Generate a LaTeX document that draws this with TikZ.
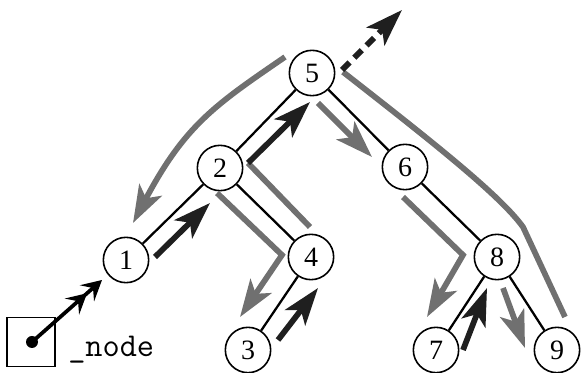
\documentclass[tikz,border=0pt]{standalone}
\usepackage{fontspec}
\setmainfont{Liberation Serif}
\usetikzlibrary{arrows.meta}
\definecolor{WalkGray}{rgb}{0.44, 0.44, 0.44}
\definecolor{WalkBlack}{rgb}{0.12, 0.12, 0.12}

\begin{document}
\begin{tikzpicture}[x=0.75pt,y=0.75pt,yscale=-1,xscale=1,
	treenode/.style={draw, circle, line width=1.2pt, minimum size=34pt, inner sep=0pt, font=\fontsize{21}{21}\selectfont},
	treeedge/.style={line width=1.7pt},
	walkgray/.style={draw=WalkGray, line width=4.3pt, line join=miter, -{Stealth[length=28pt,width=19pt,inset=7pt]}},
	walkline/.style={draw=WalkGray, line width=4.3pt, line join=miter},
	walkblack/.style={draw=WalkBlack, line width=4.3pt, line join=miter, -{Stealth[length=28pt,width=19pt,inset=7pt]}}]
	\useasboundingbox (0,0) rectangle (582,373);

	% Tree nodes
	\node [treenode] (n5) at (312,73) {5};
	\node [treenode] (n2) at (220,168) {2};
	\node [treenode] (n6) at (405,167) {6};
	\node [treenode] (n1) at (126,260) {1};
	\node [treenode] (n4) at (311,257) {4};
	\node [treenode] (n3) at (248,350) {3};
	\node [treenode] (n8) at (497,257) {8};
	\node [treenode] (n7) at (436,350) {7};
	\node [treenode] (n9) at (557,350) {9};

	% Tree edges
	\draw [treeedge] (n5) -- (n2);
	\draw [treeedge] (n5) -- (n6);
	\draw [treeedge] (n2) -- (n1);
	\draw [treeedge] (n2) -- (n4);
	\draw [treeedge] (n4) -- (n3);
	\draw [treeedge] (n6) -- (n8);
	\draw [treeedge] (n8) -- (n7);
	\draw [treeedge] (n8) -- (n9);

	% Pointer box
	\node [draw, line width=0.9pt, minimum width=36pt, minimum height=37pt, inner sep=0pt] (ptr) at (31,342) {};
	\coordinate (ptrdot) at (32,342);
	\coordinate (ptrend) at (102,280);
	\fill (ptrdot) circle (4.5pt);
	\draw [line width=2.8pt, -{Stealth[length=15pt,width=16pt,inset=6pt] Stealth[length=15pt,width=16pt,inset=6pt]}] (ptrdot) -- (ptrend);
	% Text Node
	\node [anchor=base west, inner sep=0pt, font=\ttfamily\fontsize{25}{25}\selectfont] (ptrlabel) at (68,357) {\_node};

	% Walk around the tree
	\draw [walkgray] (285,57) .. controls (215,105) and (185,125) .. (133,223);
	\draw [walkblack] (155,257) -- (210,203);
	\draw [walkgray] (217,193) -- (282,255) -- (240,317);
	\draw [walkblack] (278,340) -- (318,288);
	\draw [walkline] (310,227) -- (248,163);
	\draw [walkblack] (248,163) -- (310,102);
	\draw [walkgray] (318,103) -- (372,157);
	\draw [walkgray] (403,197) -- (463,255) -- (427,317);
	\draw [walkblack] (463,350) -- (487,288);
	\draw [walkgray] (503,288) -- (525,348);
	\draw [walkline] (343,72) .. controls (430,140) and (500,195) .. (523,227) -- (565,317);
	\draw [draw=WalkBlack, line width=4.3pt, dash pattern={on 8pt off 5pt}, -{Stealth[length=28pt,width=19pt,inset=7pt]}] (342,70) -- (402,10);
\end{tikzpicture}
\end{document}
